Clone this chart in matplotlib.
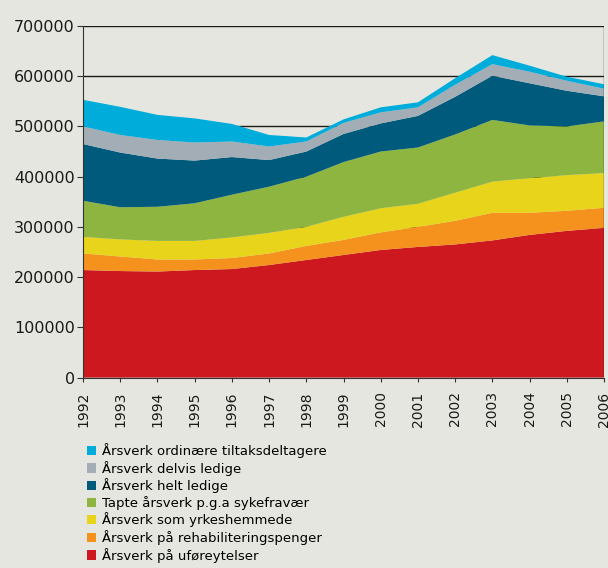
import numpy as np
import matplotlib.pyplot as plt
from matplotlib.patches import Patch

years = list(range(1992, 2007))

# thousands of årsverk, stacked bottom to top
ufore = [214, 212, 211, 214, 216, 224, 234, 244, 254, 260, 265, 273, 284, 292, 298]
rehab = [33, 29, 24, 21, 22, 23, 28, 30, 35, 40, 47, 55, 44, 40, 40]
yrkes = [33, 34, 37, 37, 41, 41, 38, 46, 48, 46, 56, 62, 69, 71, 69]
syke = [72, 64, 68, 75, 85, 92, 100, 109, 113, 112, 116, 123, 105, 97, 103]
helt = [113, 109, 96, 85, 75, 53, 50, 56, 56, 63, 75, 88, 84, 71, 50]
delvis = [35, 35, 37, 36, 31, 27, 20, 22, 22, 17, 24, 23, 23, 20, 15]
tiltak = [53, 56, 50, 48, 35, 23, 8, 7, 10, 10, 13, 18, 12, 8, 9]

labels = ["Årsverk på uføreytelser",
          "Årsverk på rehabiliteringspenger",
          "Årsverk som yrkeshemmede",
          "Tapte årsverk p.g.a sykefravær",
          "Årsverk helt ledige",
          "Årsverk delvis ledige",
          "Årsverk ordinære tiltaksdeltagere"]
colors = ["#cd1820", "#f5921e", "#e8d41a", "#8db53f", "#005a7c", "#a2adb5", "#00acd9"]

series = [ufore, rehab, yrkes, syke, helt, delvis, tiltak]
series = [np.array(s) * 1000 for s in series]

bg = "#e6e6e0"
fig = plt.figure(figsize=(6.08, 5.68), dpi=100, facecolor=bg)
ax = fig.add_axes([83/608, 1 - 377.5/568, (604 - 83)/608, (377.5 - 26)/568])
ax.set_facecolor(bg)

ax.stackplot(years, *series, colors=colors, linewidth=0)

ax.set_xlim(1992, 2006)
ax.set_ylim(0, 700000)
ax.set_yticks(range(0, 700001, 100000))
ax.set_yticklabels([str(v) for v in range(0, 700001, 100000)], fontsize=11.5, color="#1a1a1a")
ax.set_xticks(years)
ax.set_xticklabels([str(y) for y in years], rotation=90, fontsize=10, color="#1a1a1a")
ax.grid(axis="y", color="#1a1a1a", linewidth=1)
ax.set_axisbelow(True)
for s in ["top", "right"]:
    ax.spines[s].set_visible(False)
ax.spines["left"].set_color("#333333")
ax.spines["bottom"].set_color("#333333")
ax.tick_params(axis="y", color="#333333", length=4, pad=2)
ax.tick_params(axis="x", color="#333333", length=3, pad=7)
ax.axvline(2006, color="#333333", linewidth=1)

handles = [Patch(facecolor=c, edgecolor="none") for c in colors][::-1]
fig.legend(handles, labels[::-1], loc="upper left", bbox_to_anchor=(87/608, 1 - 443/568),
           frameon=False, fontsize=9.5, handlelength=0.7, handleheight=0.7,
           handletextpad=0.4, labelspacing=0.2, borderaxespad=0, borderpad=0)

fig.savefig("out.png", dpi=100, facecolor=bg)
